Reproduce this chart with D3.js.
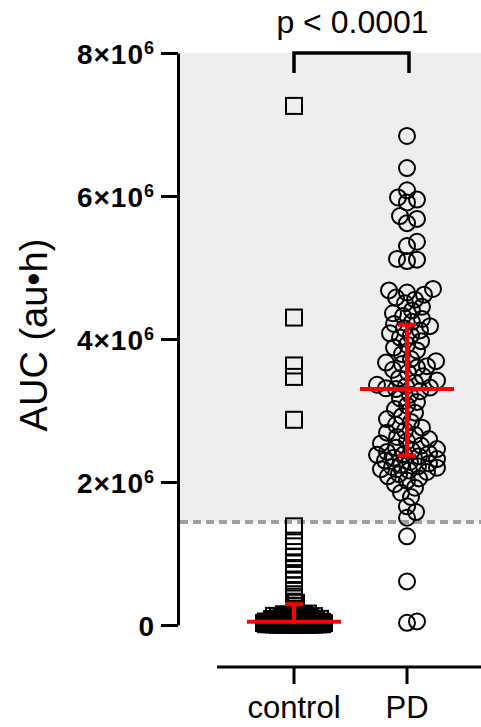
<!DOCTYPE html>
<html>
<head>
<meta charset="utf-8">
<script src="https://cdn.jsdelivr.net/npm/d3@7"></script>
<style>
  html, body { margin: 0; padding: 0; background: #fff; }
  svg { display: block; font-family: "Liberation Sans", Arial, sans-serif; }
</style>
</head>
<body>
<div id="chart"></div>
<script>
// Groups on the x axis
const groups = ['control', 'PD'];

// AUC values (×10^6 au·h)
const controlValues = [
  7.26, 4.30, 3.63, 3.47, 2.87,
  1.38, 1.18, 1.10, 1.02, 0.95, 0.86, 0.78, 0.70, 0.62, 0.55, 0.49, 0.43, 0.37, 0.31,
  0.27, 0.23, 0.19, 0.16,
  0.150, 0.146, 0.142, 0.138, 0.135, 0.131, 0.128, 0.124, 0.120, 0.116, 0.112, 0.108, 0.105,
  0.101, 0.098, 0.094, 0.090, 0.087, 0.083, 0.080, 0.076, 0.073, 0.070, 0.067, 0.064, 0.061,
  0.058, 0.055, 0.053, 0.050,
  0.048, 0.047, 0.045, 0.044, 0.043, 0.041, 0.040, 0.039, 0.037, 0.036, 0.035, 0.034, 0.032,
  0.031, 0.030, 0.029, 0.028, 0.026, 0.025, 0.024, 0.023, 0.022, 0.021, 0.020, 0.019, 0.018,
  0.017, 0.016, 0.015, 0.014, 0.013, 0.012, 0.011, 0.010, 0.009, 0.008, 0.007, 0.006, 0.005,
  0.004, 0.004, 0.003, 0.002, 0.002, 0.001, 0.001
];

const pdValues = [
  6.84, 6.39, 6.08, 5.98, 5.95, 5.91, 5.72, 5.68, 5.62, 5.36, 5.30, 5.12, 5.11, 5.09,
  4.70, 4.68, 4.65, 4.62, 4.58, 4.55, 4.50,
  4.45, 4.40, 4.36, 4.32, 4.28, 4.24, 4.21,
  4.18, 4.15, 4.12, 4.08, 4.05, 4.02,
  3.97, 3.92, 3.88, 3.84, 3.79,
  3.72, 3.69, 3.67, 3.65, 3.62, 3.60, 3.57, 3.53,
  3.48, 3.45, 3.42, 3.39, 3.36, 3.34, 3.32, 3.31,
  3.30,
  3.27, 3.22, 3.17, 3.12, 3.07, 3.02,
  2.97, 2.92, 2.88, 2.84, 2.80, 2.76,
  2.72, 2.69, 2.66, 2.63, 2.60, 2.57, 2.54, 2.51,
  2.48, 2.46, 2.44, 2.42, 2.40, 2.39, 2.38,
  2.36, 2.34, 2.32, 2.30, 2.28, 2.26, 2.24, 2.22, 2.21, 2.20, 2.18, 2.16, 2.14, 2.11,
  2.08, 2.05, 2.02, 1.97, 1.92, 1.85, 1.79,
  1.66, 1.58, 1.50, 1.24, 0.61, 0.05, 0.03
];

// median and interquartile range as drawn (×10^6)
const medians = [0.046, 3.30];
const q1s = [0.01, 2.37];
const q3s = [0.29, 4.20];

const yTicks = [0, 2, 4, 6, 8];   // ×10^6
const cutoff = 1.44;              // ×10^6, dashed threshold
const pLabel = 'p < 0.0001';

const width = 481, height = 727;

const svg = d3.select('#chart').append('svg')
  .attr('width', width)
  .attr('height', height);

const y = d3.scaleLinear().domain([0, 8]).range([625, 53]);
const x = d3.scalePoint().domain(groups).range([294, 407]);
const axisX = 178;

// shaded region above cutoff
svg.append('rect')
  .attr('x', axisX + 2)
  .attr('y', y(8))
  .attr('width', width - axisX - 2)
  .attr('height', y(cutoff) - y(8))
  .attr('fill', '#eeeeee');

svg.append('line')
  .attr('x1', axisX + 2).attr('x2', width)
  .attr('y1', y(cutoff)).attr('y2', y(cutoff))
  .attr('stroke', '#a0a0a0')
  .attr('stroke-width', 4)
  .attr('stroke-dasharray', '8,5');

// simple dodge layout: smallest offset with no overlap, else least crowded
function dodge(values, spacing, maxOff) {
  const placed = [];
  const sorted = values.map(v => ({ v, py: y(v) })).sort((a, b) => a.v - b.v);
  sorted.forEach(p => {
    let best = null, bestScore = -1;
    for (let k = 0; k <= maxOff; k++) {
      const cands = k === 0 ? [0] : [k, -k];
      for (const off of cands) {
        let minD = Infinity;
        for (const q of placed) {
          const d = Math.hypot(q.off - off, q.py - p.py);
          if (d < minD) minD = d;
        }
        if (minD >= spacing) { best = off; bestScore = Infinity; break; }
        if (minD > bestScore) { bestScore = minD; best = off; }
      }
      if (bestScore === Infinity) break;
    }
    p.off = best;
    placed.push(p);
  });
  return placed;
}

// control squares
const ctrl = dodge(controlValues, 3.2, 30);
const sq = 16;
svg.append('g').selectAll('rect')
  .data(ctrl)
  .join('rect')
  .attr('x', d => x('control') + d.off - sq / 2)
  .attr('y', d => d.py - sq / 2)
  .attr('width', sq)
  .attr('height', sq)
  .attr('fill', 'none')
  .attr('stroke', '#000')
  .attr('stroke-width', 2);

// PD circles
const pd = dodge(pdValues, 10, 30);
svg.append('g').selectAll('circle')
  .data(pd)
  .join('circle')
  .attr('cx', d => x('PD') + d.off)
  .attr('cy', d => d.py)
  .attr('r', 8)
  .attr('fill', 'none')
  .attr('stroke', '#000')
  .attr('stroke-width', 2);

// median with interquartile range
const sg = svg.append('g').attr('stroke', '#ff0000').attr('stroke-width', 4);
groups.forEach((g, i) => {
  const cx = x(g);
  sg.append('line').attr('x1', cx - 47).attr('x2', cx + 47).attr('y1', y(medians[i])).attr('y2', y(medians[i]));
  sg.append('line').attr('x1', cx).attr('x2', cx).attr('y1', y(q1s[i])).attr('y2', y(q3s[i]));
  sg.append('line').attr('x1', cx - 9).attr('x2', cx + 9).attr('y1', y(q3s[i])).attr('y2', y(q3s[i]));
  if (y(q1s[i]) - y(medians[i]) > 6) {
    sg.append('line').attr('x1', cx - 9).attr('x2', cx + 9).attr('y1', y(q1s[i])).attr('y2', y(q1s[i]));
  }
});

// y axis
const yAxis = svg.append('g')
  .attr('transform', `translate(${axisX},0)`)
  .call(d3.axisLeft(y).tickValues(yTicks).tickSize(17).tickSizeOuter(0).tickPadding(6));
yAxis.select('.domain').attr('stroke-width', 3);
yAxis.selectAll('.tick line').attr('stroke-width', 3);
yAxis.selectAll('.tick text')
  .attr('font-size', 28)
  .attr('font-weight', 'bold')
  .attr('font-family', '"Liberation Sans", Arial, sans-serif')
  .attr('letter-spacing', 1)
  .attr('fill', '#000')
  .attr('dy', '0.36em')
  .each(function(d) {
    const t = d3.select(this).text('');
    if (d === 0) { t.text('0'); return; }
    t.append('tspan').text(d + '×10');
    t.append('tspan').attr('font-size', 18).attr('dy', '-0.55em').text('6');
  });

svg.append('text')
  .attr('transform', 'translate(47,335) rotate(-90)')
  .attr('text-anchor', 'middle')
  .attr('font-size', 38)
  .text('AUC (au•h)');

// x axis
const xAxis = svg.append('g')
  .attr('transform', 'translate(0,667)');
xAxis.append('line')
  .attr('x1', 217).attr('x2', width)
  .attr('stroke', '#000').attr('stroke-width', 3);
xAxis.selectAll('.xt')
  .data(groups)
  .join('line')
  .attr('x1', d => x(d)).attr('x2', d => x(d))
  .attr('y1', 0).attr('y2', 17)
  .attr('stroke', '#000').attr('stroke-width', 3);
xAxis.selectAll('text')
  .data(groups)
  .join('text')
  .attr('x', d => x(d))
  .attr('y', 51)
  .attr('text-anchor', 'middle')
  .attr('font-size', 31)
  .text(d => d);

// significance bracket
svg.append('path')
  .attr('d', `M${x('control')},${y(8) + 20}V${y(8)}H${x('PD') + 2}V${y(8) + 20}`)
  .attr('fill', 'none')
  .attr('stroke', '#000')
  .attr('stroke-width', 3.5);

svg.append('text')
  .attr('x', (x('control') + x('PD')) / 2 + 2)
  .attr('y', 33)
  .attr('text-anchor', 'middle')
  .attr('font-size', 32)
  .text(pLabel);
</script>
</body>
</html>
